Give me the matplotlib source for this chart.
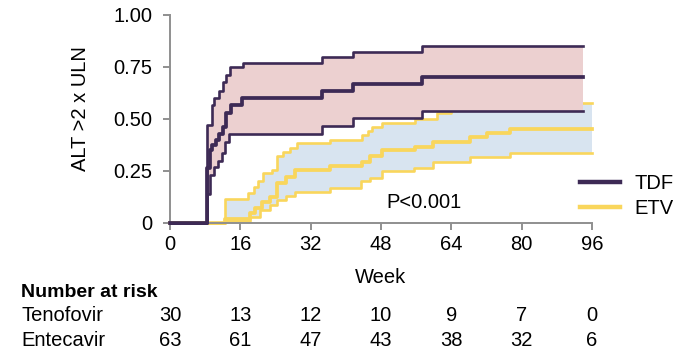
import numpy as np
import matplotlib
matplotlib.use("Agg")
import matplotlib.pyplot as plt
from matplotlib.transforms import blended_transform_factory

plt.rcParams['font.family'] = ['Liberation Sans', 'DejaVu Sans']

# Cumulative proportion with ALT >2 x ULN (week, proportion)
tdf_t = [0, 8.35, 9.1, 9.5, 10.4, 11.2, 12.1, 12.8, 13.9, 16.3, 34.5, 41.7, 57.3]
tdf_mid = [0, 0.263, 0.35, 0.375, 0.40, 0.43, 0.46, 0.527, 0.567, 0.60, 0.633, 0.667, 0.70]
tdf_hi_t = [0, 8.35, 9.5, 10.1, 11.2, 12.1, 12.8, 13.6, 16.5, 34.5, 41.7, 57.3]
tdf_hi = [0, 0.47, 0.567, 0.60, 0.637, 0.677, 0.71, 0.75, 0.77, 0.80, 0.82, 0.85]
tdf_lo_t = [0, 8.35, 9.1, 10.0, 11.0, 11.8, 12.5, 13.5, 34.5, 41.7, 57.3]
tdf_lo = [0, 0.14, 0.23, 0.27, 0.30, 0.335, 0.39, 0.43, 0.466, 0.503, 0.54]
tdf_end = 94

etv_t = [0, 12.5, 18.2, 19.4, 20.9, 22.8, 24.4, 26.5, 28.4, 36.4, 43.6, 45.5, 48.2,
         55.8, 59.9, 68.3, 72.1, 77.4]
etv_mid = [0, 0.018, 0.047, 0.07, 0.10, 0.127, 0.19, 0.222, 0.255, 0.274, 0.295, 0.32,
           0.35, 0.367, 0.39, 0.415, 0.434, 0.45]
etv_hi_t = [0, 12.5, 17.8, 19.0, 20.1, 21.2, 23.1, 24.4, 25.8, 27.3, 28.8, 36.4, 43.6,
            45.1, 45.9, 48.2, 55.8, 60.7, 64.0, 72.0]
etv_hi = [0, 0.115, 0.143, 0.175, 0.20, 0.24, 0.255, 0.32, 0.343, 0.36, 0.383, 0.40,
          0.423, 0.44, 0.46, 0.48, 0.50, 0.527, 0.555, 0.578]
etv_lo_t = [0, 12.5, 18.2, 20.5, 22.8, 24.4, 26.5, 28.4, 36.4, 43.4, 45.5, 48.2, 55.5,
            59.9, 68.3, 77.4]
etv_lo = [0, 0.01, 0.027, 0.062, 0.087, 0.11, 0.13, 0.15, 0.17, 0.20, 0.215, 0.25,
          0.263, 0.295, 0.316, 0.335]
etv_end = 96

# number at risk table
risk_weeks = [0, 16, 32, 48, 64, 80, 96]
risk_tdf = [30, 13, 12, 10, 9, 7, 0]
risk_etv = [63, 61, 47, 43, 38, 32, 6]

TDF_COL = '#3d2a55'
ETV_COL = '#f9d65c'
TDF_FILL = '#ecd0d0'
ETV_FILL = '#d8e4f0'
AX_COL = '#8f8f8f'


def extend(t, v, end):
    return np.r_[t, end], np.r_[v, v[-1]]


def step_at(grid, t, v):
    idx = np.searchsorted(t, grid, side='right') - 1
    return np.asarray(v)[idx]


def draw_group(ax, t, mid, t_lo, lo, t_hi, hi, end, col, fill, z):
    grid = np.unique(np.r_[t_lo, t_hi, end])
    ax.fill_between(grid, step_at(grid, t_lo, lo), step_at(grid, t_hi, hi),
                    step='post', color=fill, lw=0, zorder=z)
    for tt, vv, lw in [(t_lo, lo, 1.9), (t_hi, hi, 1.9), (t, mid, 2.7)]:
        x, y = extend(tt, vv, end)
        ax.step(x, y, where='post', color=col, lw=lw, clip_on=False, zorder=z + 1)


fig = plt.figure(figsize=(6.88, 3.52), dpi=100)
ax = fig.add_axes([170 / 688, 1 - 223 / 352, 422 / 688, 208 / 352])

# ETV first, TDF band and lines drawn over it
draw_group(ax, etv_t, etv_mid, etv_lo_t, etv_lo, etv_hi_t, etv_hi, etv_end,
           ETV_COL, ETV_FILL, 1)
draw_group(ax, tdf_t, tdf_mid, tdf_lo_t, tdf_lo, tdf_hi_t, tdf_hi, tdf_end,
           TDF_COL, TDF_FILL, 3)

ax.set_xlim(0, 96)
ax.set_ylim(0, 1)
ax.set_xticks(risk_weeks)
ax.set_yticks([0, 0.25, 0.5, 0.75, 1.0])
ax.set_yticklabels(['0', '0.25', '0.50', '0.75', '1.00'])
ax.tick_params(labelsize=14.5, length=5, width=1.4, color=AX_COL)
ax.tick_params(axis='y', pad=7.5)
ax.tick_params(axis='x', pad=3.5)
for side in ['top', 'right']:
    ax.spines[side].set_visible(False)
for side in ['left', 'bottom']:
    ax.spines[side].set_color(AX_COL)
    ax.spines[side].set_linewidth(1.4)

ax.set_xlabel('Week', fontsize=14.5)
ax.xaxis.set_label_coords(0.5, -0.215)
ax.set_ylabel('ALT >2 x ULN', fontsize=14.5)
ax.yaxis.set_label_coords(-0.19, 0.55)

ax.text(49.2, 0.07, 'P<0.001', fontsize=14.5, ha='left', va='baseline', zorder=6)

h1, = ax.plot([], [], color=TDF_COL, lw=3.2)
h2, = ax.plot([], [], color=ETV_COL, lw=3.2)
fig.legend([h1, h2], ['TDF', 'ETV'], loc='upper left',
           bbox_to_anchor=(566 / 688, 1 - 160 / 352), frameon=False, fontsize=14.5,
           handlelength=2.0, handletextpad=0.7, labelspacing=0.3, borderpad=0.2)

# Number at risk table
fig.text(21 / 688, 1 - 296.7 / 352, 'Number at risk', fontsize=14, fontweight='bold',
         va='baseline')
risk_tr = blended_transform_factory(ax.transData, fig.transFigure)
rows = [('Tenofovir', risk_tdf, 320.7), ('Entecavir', risk_etv, 346)]
for name, vals, ypx in rows:
    fig.text(21 / 688, 1 - ypx / 352, name, fontsize=14.5, va='baseline')
    for wk, n in zip(risk_weeks, vals):
        ax.text(wk, 1 - ypx / 352, str(n), fontsize=14.5, ha='center', va='baseline',
                transform=risk_tr)

fig.savefig('out.png', dpi=100)
